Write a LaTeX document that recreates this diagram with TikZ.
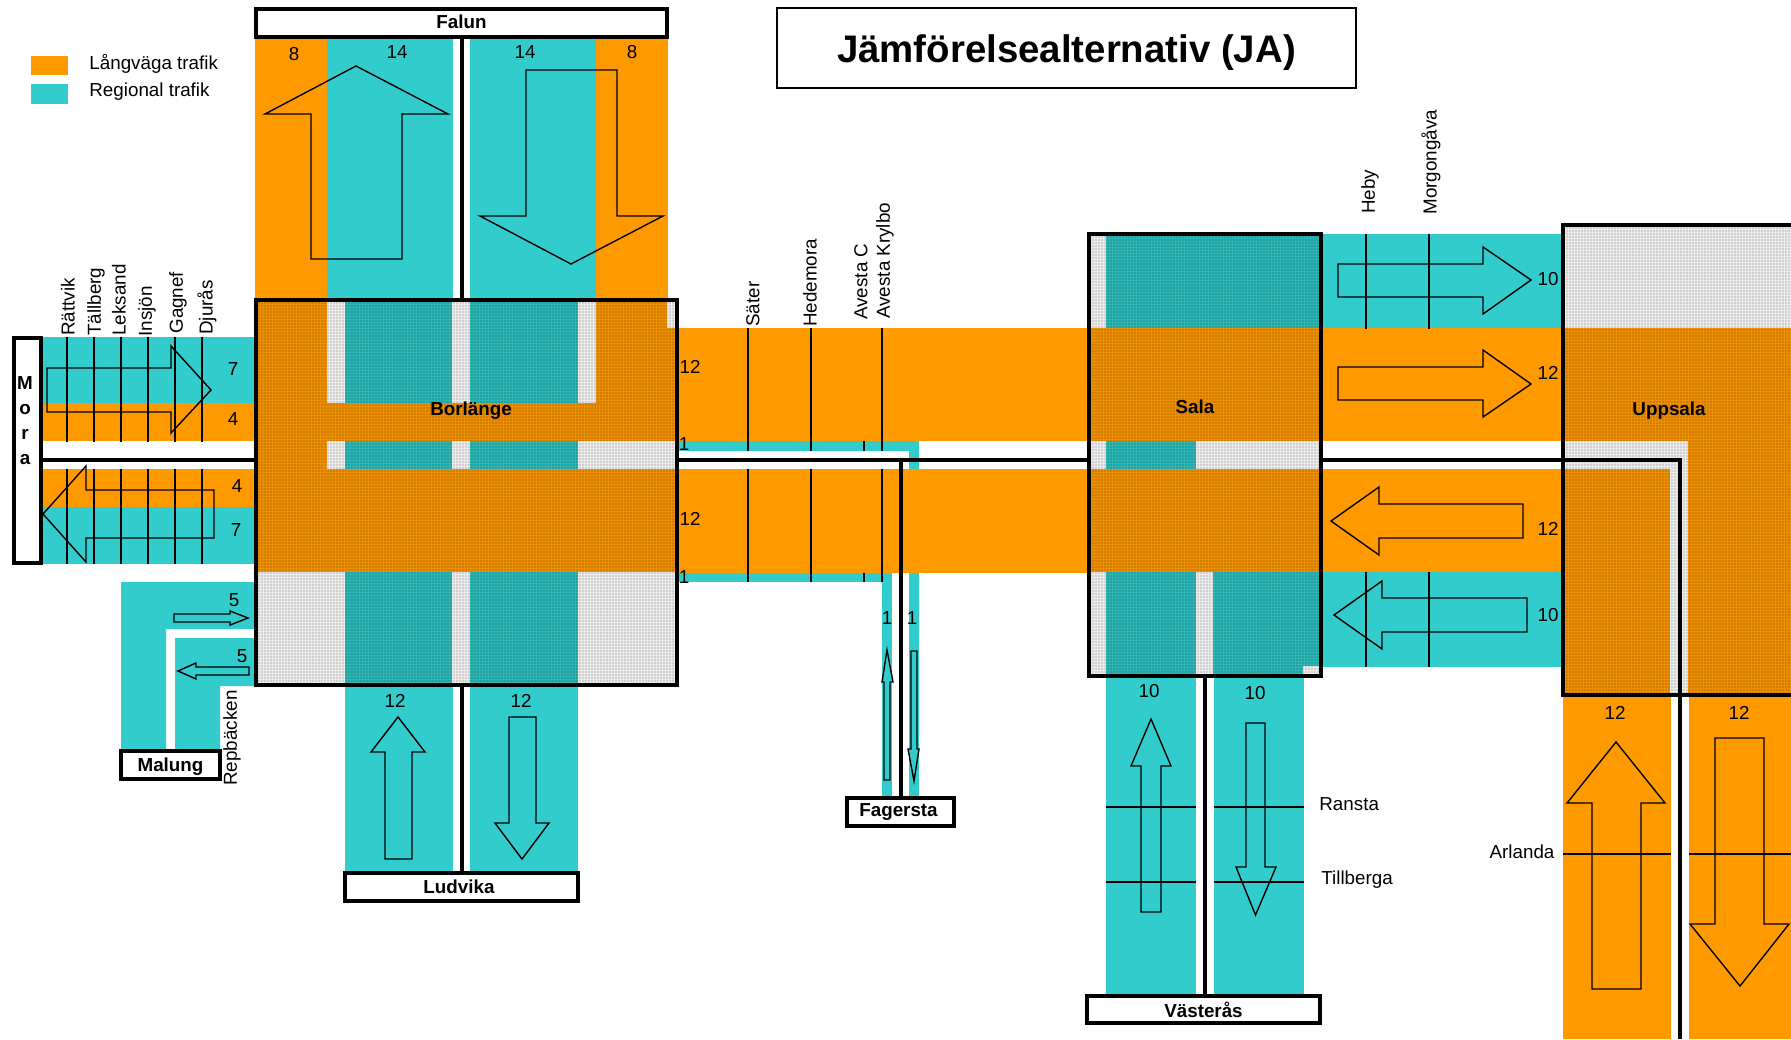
\documentclass[tikz,border=0pt]{standalone}
\usepackage{fontspec}
\setmainfont{Liberation Sans}
\usetikzlibrary{patterns}
\pgfdeclarepatternformonly{dither}{\pgfqpoint{0pt}{0pt}}{\pgfqpoint{1pt}{1pt}}{\pgfqpoint{1.5pt}{1.5pt}}{\pgfpathrectangle{\pgfqpoint{0pt}{0pt}}{\pgfqpoint{1pt}{1pt}}\pgfusepath{fill}}
\definecolor{longc}{HTML}{FF9900}
\definecolor{regc}{HTML}{33CCCC}
\definecolor{hubo}{HTML}{ED8F00}
\definecolor{hubt}{HTML}{2DB6B6}
\definecolor{hubg}{HTML}{ECECEC}
\newcommand{\rectfill}[5]{\fill[#1] (#2,#3) rectangle (#4,#5);}
\tikzset{
  txt/.style={inner sep=0pt,font=\fontsize{9.4}{11}\selectfont},
  stn/.style={txt,rotate=90,anchor=west},
  city/.style={draw=black,line width=2pt,fill=white,inner sep=0pt,font=\fontsize{9.4}{11}\selectfont\bfseries},
  hub/.style={draw=black,line width=2pt,inner sep=0pt,pattern=dither,pattern color=black,fill opacity=.12,draw opacity=1},
  hubtext/.style={inner sep=0pt,font=\fontsize{9.4}{11}\selectfont\bfseries},
  mainline/.style={draw=black,line width=2pt},
  tick/.style={draw=black,line width=1.1pt},
  tickheavy/.style={draw=black,line width=1.4pt},
  flow/.style={draw=black,line width=.7pt,line join=miter},
}
\begin{document}
\begin{tikzpicture}[x=.5pt,y=-.5pt]
\useasboundingbox (0,0) rectangle (1791,1039);
% legend
\rectfill{longc}{31}{56}{68}{75}
\rectfill{regc}{31}{84}{68}{104}
\node[txt,anchor=west] (lega) at (89,64) {Långväga trafik};
\node[txt,anchor=west] (legb) at (89,92) {Regional trafik};
% title
\node[draw=black,line width=.7pt,inner sep=0pt,minimum width=289.5pt,minimum height=40pt,text height=17.5pt,text depth=3pt,font=\fontsize{19.2}{22}\selectfont\bfseries] (title) at (1066.5,48) {Jämförelsealternativ (JA)};
% Mora bands
\rectfill{regc}{43}{337}{256}{403}
\rectfill{longc}{43}{403}{256}{441}
\rectfill{longc}{43}{469}{256}{507}
\rectfill{regc}{43}{507}{256}{564}
% Malung bands
\fill[regc] (121,582) -- (254,582) -- (254,629) -- (166,629) -- (166,750) -- (121,750) -- cycle;
\fill[regc] (175,638) -- (254,638) -- (254,686) -- (220,686) -- (220,750) -- (175,750) -- cycle;
% Falun bands
\rectfill{longc}{255}{39}{327}{300}
\rectfill{regc}{327}{39}{453}{300}
\rectfill{regc}{470}{39}{596}{300}
\rectfill{longc}{596}{39}{668}{300}
% Ludvika bands
\rectfill{regc}{345}{685}{453}{872}
\rectfill{regc}{470}{685}{578}{872}
% Borlange - Sala bands
\rectfill{longc}{677}{328}{1089}{441}
\rectfill{longc}{677}{469}{1089}{573}
\rectfill{regc}{677}{441}{919}{451}
\rectfill{regc}{909}{441}{919}{469}
\rectfill{regc}{677}{573}{892}{582}
\rectfill{regc}{882}{573}{892}{796}
\rectfill{regc}{909}{573}{919}{796}
% Sala - Uppsala bands
\rectfill{regc}{1321}{234}{1563}{328}
\rectfill{longc}{1321}{328}{1563}{441}
\rectfill{longc}{1321}{469}{1563}{572}
\rectfill{regc}{1321}{572}{1563}{667}
% Vasteras bands
\rectfill{regc}{1106}{676}{1196}{995}
\rectfill{regc}{1214}{676}{1304}{995}
% Uppsala bands
\rectfill{longc}{1563}{695}{1671}{1039}
\rectfill{longc}{1689}{695}{1791}{1039}
% Borlange interior
\rectfill{hubg}{256}{300}{677}{685}
\rectfill{hubt}{345}{300}{452}{685}
\rectfill{hubt}{470}{300}{578}{685}
\rectfill{hubo}{256}{300}{327}{572}
\rectfill{hubo}{596}{300}{667}{403}
\rectfill{hubo}{667}{328}{677}{403}
\rectfill{hubo}{256}{403}{677}{441}
\rectfill{hubo}{256}{469}{677}{572}
% Sala interior
\rectfill{hubg}{1089}{234}{1321}{676}
\rectfill{hubt}{1106}{234}{1321}{328}
\rectfill{hubo}{1089}{328}{1321}{441}
\rectfill{hubt}{1106}{441}{1196}{469}
\rectfill{hubo}{1089}{469}{1321}{572}
\rectfill{hubt}{1106}{572}{1196}{676}
\rectfill{hubt}{1213}{572}{1321}{676}
\rectfill{hubg}{1303}{666}{1321}{676}
% Uppsala interior
\rectfill{hubg}{1563}{225}{1791}{695}
\rectfill{hubo}{1563}{328}{1791}{441}
\rectfill{hubo}{1563}{469}{1670}{695}
\rectfill{hubo}{1688}{441}{1791}{695}
% hub frames with dither
\node[hub,minimum width=210.5pt,minimum height=192.5pt] (borl) at (466.5,492.5) {};
\node[hub,minimum width=116pt,minimum height=221pt] (sala) at (1205,455) {};
\node[hub,minimum width=118.5pt,minimum height=235pt] (upps) at (1681.5,460) {};
% city boxes
\node[city,minimum width=205.5pt,minimum height=14pt,text height=7pt,text depth=1pt] (falun) at (461.5,22.5) {Falun};
\node[city,minimum width=116.5pt,minimum height=14pt,text depth=0pt] (ludvika) at (461.5,887) {\hspace*{-2.5pt}Ludvika};
\node[city,minimum width=49.5pt,minimum height=14pt,text height=7pt,text depth=.6pt] (malung) at (170.5,765) {Malung};
\node[city,minimum width=53.5pt,minimum height=14pt,text height=7pt,text depth=2.4pt] (fagersta) at (900.5,812) {\hspace*{-2pt}Fagersta};
\node[city,line width=1.7pt,minimum width=116.5pt,minimum height=13.5pt] (vasteras) at (1203.5,1009.5) {Västerås};
\node[city,minimum width=13.5pt,minimum height=112.5pt] (mora) at (27.5,450.5) {};
\node[hubtext,align=center,font=\fontsize{9.4}{12.5}\selectfont\bfseries] (moratext) at (25,421) {M\\o\\r\\a};
% hub names
\node[hubtext] (borltext) at (471,411) {Borlänge};
\node[hubtext] (salatext) at (1195,407) {Sala};
\node[hubtext] (uppstext) at (1669,411) {Uppsala};
% main track lines
\coordinate (ya) at (0,460);
\coordinate (xa) at (462,0);
\coordinate (xb) at (901,0);
\coordinate (xc) at (1205,0);
\coordinate (uc) at (1680,460);
\coordinate (ue) at (1680,1039);
\draw[mainline] (mora.east |- ya) -- (borl.west |- ya);
\draw[mainline] (borl.east |- ya) -- (sala.west |- ya);
\draw[mainline] (sala.east |- ya) -- (uc) -- (ue);
\draw[mainline] (falun.south -| xa) -- (borl.north -| xa);
\draw[mainline] (borl.south -| xa) -- (ludvika.north -| xa);
\draw[mainline] (xb |- ya) -- (fagersta.north -| xb);
\draw[mainline] (sala.south -| xc) -- (vasteras.north -| xc);
% station ticks
\foreach \x in {67,94,121,148,175,202} {
  \draw[tickheavy] (\x,337) -- (\x,442);
  \draw[tickheavy] (\x,469) -- (\x,564);
}
\foreach \x in {748,811,882} {
  \draw[tick] (\x,328) -- (\x,451);
  \draw[tick] (\x,469) -- (\x,582);
}
\draw[tickheavy] (864,441) -- (864,451);
\draw[tickheavy] (864,573) -- (864,582);
\foreach \x in {1366,1429} {
  \draw[tick] (\x,234) -- (\x,329);
  \draw[tick] (\x,572) -- (\x,667);
}
\foreach \y in {807,882} {
  \draw[tick] (1106,\y) -- (1196,\y);
  \draw[tick] (1214,\y) -- (1304,\y);
}
\draw[tick] (1563,854) -- (1671,854);
\draw[tick] (1689,854) -- (1791,854);
% flow arrows
\draw[flow] (47,368) -- (171,368) -- (171,346) -- (211,390) -- (171,433) -- (171,412) -- (47,412) -- cycle;
\draw[flow] (43,514) -- (86,466) -- (86,490) -- (214,490) -- (214,538) -- (86,538) -- (86,562) -- cycle;
\draw[flow] (174,614) -- (230,614) -- (230,611) -- (248,618) -- (230,625) -- (230,622) -- (174,622) -- cycle;
\draw[flow] (178,671) -- (196,663) -- (196,667) -- (249,667) -- (249,675) -- (196,675) -- (196,679) -- cycle;
\draw[flow] (356,66) -- (448,114) -- (402,114) -- (402,259) -- (311,259) -- (311,114) -- (265,114) -- cycle;
\draw[flow] (526,70) -- (617,70) -- (617,216) -- (663,216) -- (571,264) -- (480,216) -- (526,216) -- cycle;
\draw[flow] (398,717) -- (425,752) -- (412,752) -- (412,859) -- (385,859) -- (385,752) -- (371,752) -- cycle;
\draw[flow] (509,717) -- (536,717) -- (536,823) -- (549,823) -- (522,859) -- (495,823) -- (509,823) -- cycle;
\draw[flow] (887,650) -- (893,682) -- (890,682) -- (890,780) -- (884,780) -- (884,682) -- (882,682) -- cycle;
\draw[flow] (911,651) -- (917,651) -- (917,749) -- (919,749) -- (914,781) -- (908,749) -- (911,749) -- cycle;
\draw[flow] (1338,264) -- (1483,264) -- (1483,247) -- (1531,280) -- (1483,314) -- (1483,297) -- (1338,297) -- cycle;
\draw[flow] (1338,367) -- (1483,367) -- (1483,350) -- (1531,384) -- (1483,417) -- (1483,400) -- (1338,400) -- cycle;
\draw[flow] (1331,521) -- (1379,487) -- (1379,504) -- (1523,504) -- (1523,538) -- (1379,538) -- (1379,555) -- cycle;
\draw[flow] (1334,615) -- (1382,581) -- (1382,598) -- (1527,598) -- (1527,632) -- (1382,632) -- (1382,649) -- cycle;
\draw[flow] (1151,719) -- (1171,766) -- (1161,766) -- (1161,912) -- (1141,912) -- (1141,766) -- (1131,766) -- cycle;
\draw[flow] (1246,723) -- (1265,723) -- (1265,867) -- (1276,867) -- (1255.5,915) -- (1236,867) -- (1246,867) -- cycle;
\draw[flow] (1616,742) -- (1665,803) -- (1641,803) -- (1641,989) -- (1592,989) -- (1592,803) -- (1567,803) -- cycle;
\draw[flow] (1715,738) -- (1764,738) -- (1764,924) -- (1789,924) -- (1740,986) -- (1690,924) -- (1715,924) -- cycle;
% numbers
\node[txt] (n1) at (233,369) {7};
\node[txt] (n2) at (233,419) {4};
\node[txt] (n3) at (237,486) {4};
\node[txt] (n4) at (236,530) {7};
\node[txt] (n5) at (234,600) {5};
\node[txt] (n6) at (242,656) {5};
\node[txt] (n7) at (294,54) {8};
\node[txt] (n8) at (397,52) {14};
\node[txt] (n9) at (525,52) {14};
\node[txt] (n10) at (632,52) {8};
\node[txt] (n11) at (395,701) {12};
\node[txt] (n12) at (521,701) {12};
\node[txt] (n13) at (690,367) {12};
\node[txt] (n14) at (684,444) {1};
\node[txt] (n15) at (690,519) {12};
\node[txt] (n16) at (684,577) {1};
\node[txt] (n17) at (887,618) {1};
\node[txt] (n18) at (912,618) {1};
\node[txt] (n19) at (1548,279) {10};
\node[txt] (n20) at (1548,373) {12};
\node[txt] (n21) at (1548,529) {12};
\node[txt] (n22) at (1548,615) {10};
\node[txt] (n23) at (1149,691) {10};
\node[txt] (n24) at (1255,693) {10};
\node[txt] (n25) at (1615,713) {12};
\node[txt] (n26) at (1739,713) {12};
% station names
\node[stn] (s1) at (68,336) {Rättvik};
\node[stn] (s2) at (96,336) {Tällberg};
\node[stn] (s3) at (119,336) {Leksand};
\node[stn] (s4) at (147,337) {Insjön};
\node[stn] (s5) at (178,334) {Gagnef};
\node[stn] (s6) at (207,335) {Djurås};
\node[stn] (s7) at (232,786) {Repbäcken};
\node[stn] (s8) at (753,327) {Säter};
\node[stn] (s9) at (810,327) {Hedemora};
\node[stn] (s10) at (861,320) {Avesta C};
\node[stn] (s11) at (885,319) {Avesta Krylbo};
\node[stn] (s12) at (1370,214) {Heby};
\node[stn] (s13) at (1431,215) {Morgongåva};
\node[txt,anchor=west] (s14) at (1319,804) {Ransta};
\node[txt,anchor=west] (s15) at (1321,880) {Tillberga};
\node[txt] (s16) at (1522,852) {Arlanda};
\end{tikzpicture}
\end{document}
